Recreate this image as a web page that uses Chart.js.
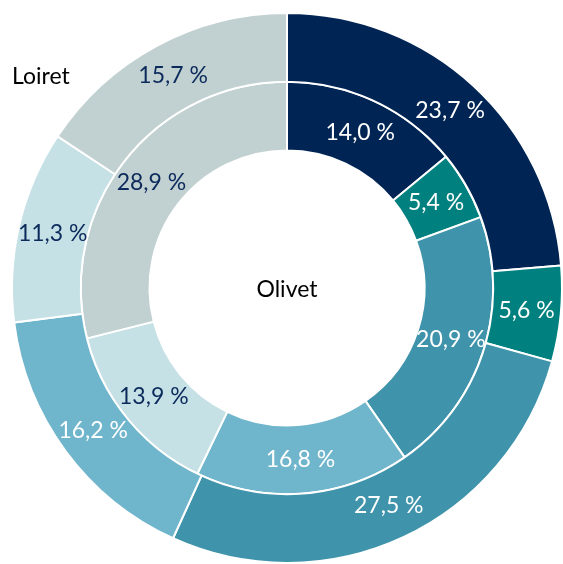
<!DOCTYPE html>
<html>
<head>
<meta charset="utf-8">
<script src="https://cdn.jsdelivr.net/npm/chart.js@4"></script>
<style>
  html, body { margin: 0; padding: 0; background: #fff; overflow: hidden; }
  #wrap { position: absolute; left: 0; top: 0; width: 574px; height: 576px; }
</style>
</head>
<body>
<div id="wrap"><canvas id="myChart"></canvas></div>
<script>
const categories = ["Cat. 1", "Cat. 2", "Cat. 3", "Cat. 4", "Cat. 5", "Cat. 6"];
const loiret = [23.7, 5.6, 27.5, 16.2, 11.3, 15.7];
const olivet = [14.0, 5.4, 20.9, 16.8, 13.9, 28.9];
const couleurs = ['#002554', '#00807f', '#3f93aa', '#6fb5cc', '#c5e1e5', '#c1d0d0'];
const couleursTexte = ['#ffffff', '#ffffff', '#ffffff', '#ffffff', '#0b2a5b', '#0b2a5b'];

const fmt = v => v.toFixed(1).replace('.', ',') + ' %';

const etiquettes = {
    id: 'etiquettes',
    afterDatasetsDraw(chart) {
        const ctx = chart.ctx;
        ctx.save();
        ctx.font = '23px Lato';
        ctx.textAlign = 'center';
        ctx.textBaseline = 'middle';
        chart.data.datasets.forEach((ds, i) => {
            chart.getDatasetMeta(i).data.forEach((arc, j) => {
                const p = arc.tooltipPosition();
                ctx.fillStyle = couleursTexte[j];
                ctx.fillText(fmt(ds.data[j]), p.x, p.y);
            });
        });
        // nom des anneaux
        const c = chart.getDatasetMeta(0).data[0];
        ctx.fillStyle = '#000000';
        ctx.fillText('Olivet', c.x, c.y + 2);
        ctx.textAlign = 'left';
        ctx.fillText('Loiret', 12, 77);
        ctx.restore();
    }
};

new Chart(document.getElementById('myChart'), {
    type: 'doughnut',
    data: {
        labels: categories,
        datasets: [
            { label: 'Loiret', data: loiret, backgroundColor: couleurs, borderColor: '#ffffff', borderWidth: 2 },
            { label: 'Olivet', data: olivet, backgroundColor: couleurs, borderColor: '#ffffff', borderWidth: 2 }
        ]
    },
    options: {
        responsive: true,
        maintainAspectRatio: false,
        animation: false,
        cutout: '50%',
        layout: { padding: { left: 11, right: 11, top: 12, bottom: 12 } },
        plugins: {
            legend: { display: false },
            tooltip: { enabled: false }
        }
    },
    plugins: [etiquettes]
});
</script>
</body>
</html>
